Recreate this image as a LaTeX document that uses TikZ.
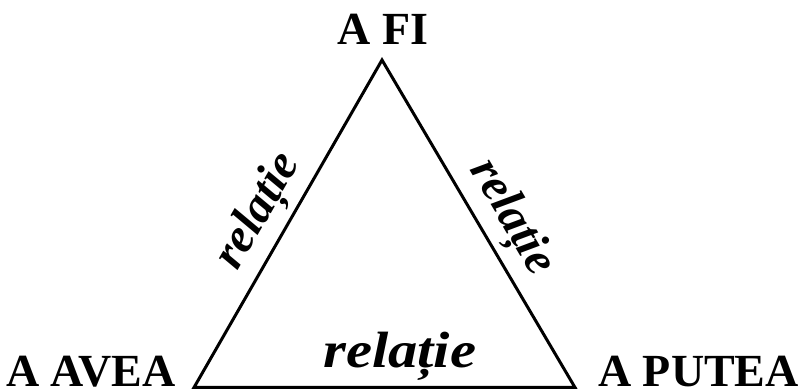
\documentclass[tikz,border=0pt]{standalone}
\usepackage{fontspec}
\setmainfont{Liberation Serif}
\newfontfamily\relfont[FakeStretch=1.15]{Liberation Serif}
\usetikzlibrary{calc}

\tikzset{
  verb/.style={font=\fontsize{46}{50}\selectfont\bfseries,inner sep=0pt},
  rel/.style={font=\relfont\fontsize{51}{55}\selectfont\bfseries\itshape,sloped,above=3pt},
  relside/.style={font=\fontsize{48}{52}\selectfont\bfseries\itshape,sloped,above=3pt},
  side/.style={line width=3pt,line join=miter}
}

\begin{document}
\begin{tikzpicture}[x=1pt,y=1pt]
\useasboundingbox (0,0) rectangle (802,390);
% corners
\coordinate (fi) at (382,330);
\coordinate (avea) at (194,2.5);
\coordinate (putea) at (575,2.5);
% labels
\node[verb,anchor=base] (lfi) at (383,345) {A FI};
\node[verb,anchor=base west] (lavea) at (6,3) {A AVEA};
\node[verb,anchor=base west] (lputea) at (598,3) {A PUTEA};
% triangle
\draw[side] (avea) -- node[relside,pos=.49] (rleft) {relație} (fi)
  -- node[relside,pos=.53] (rright) {relație} (putea)
  -- cycle;
\path (avea) -- node[rel,pos=.54] (rbottom) {relație} (putea);
\end{tikzpicture}
\end{document}
